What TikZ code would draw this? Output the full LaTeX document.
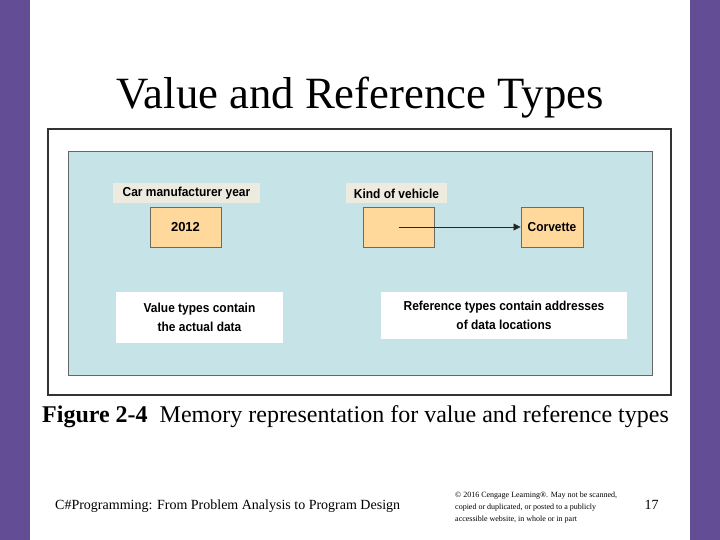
\documentclass[tikz,border=0pt]{standalone}
\usepackage{fontspec}
\setmainfont{Liberation Serif}
\newfontfamily\arialf{Liberation Sans}
\usetikzlibrary{arrows.meta}
\definecolor{slidepurple}{HTML}{634E96}
\definecolor{panelblue}{HTML}{C6E4E8}
\definecolor{labelbeige}{HTML}{EDEADF}
\definecolor{cellorange}{HTML}{FFD89C}
\definecolor{cellborder}{HTML}{6E6A62}
\tikzset{
  cell/.style={draw=cellborder, line width=0.9pt, fill=cellorange, minimum width=71pt, minimum height=40pt, inner sep=0pt, font=\arialf\bfseries\fontsize{13}{15}\selectfont},
  varlabel/.style={fill=labelbeige, inner sep=0pt, minimum height=20pt, font=\arialf\bfseries\fontsize{13}{15}\selectfont},
  notebox/.style={fill=white, inner sep=0pt, align=center, font=\arialf\bfseries\fontsize{13}{19}\selectfont},
}
\begin{document}
\begin{tikzpicture}[x=1pt,y=-1pt]
\useasboundingbox (0,0) rectangle (720,540);
\fill[white] (0,0) rectangle (720,540);
\fill[slidepurple] (0,0) rectangle (30,540);
\fill[slidepurple] (690,0) rectangle (720,540);
\node[font=\fontsize{44.7}{48}\selectfont, anchor=base] (title) at (360,109) {Value and Reference Types};
\draw[draw=black!80, line width=1.4pt, fill=white] (48,129) rectangle (671,395);
\draw[draw=black!60, line width=0.6pt, fill=panelblue] (68,151) rectangle (652,375);
\node[varlabel, minimum width=147pt] (yearlabel) at (186.5,193) {\scalebox{0.92}[1]{Car manufacturer year}};
\node[cell] (year) at (185.5,227) {2012};
\node[varlabel, minimum width=101pt] (kindlabel) at (396.5,193.5) {\scalebox{0.92}[1]{Kind of vehicle}};
\node[cell] (kind) at (398.5,227) {};
\node[cell, minimum width=62pt] (corvette) at (552,227) {\scalebox{0.92}[1]{Corvette}};
\coordinate (kindptr) at (398.5,227);
\draw[-{Triangle[length=7pt,width=7pt]}, line width=0.8pt, draw=black!85] (kindptr) -- (corvette.west);
\node[notebox, minimum width=167pt, minimum height=51pt] (valnote) at (199.5,317.5) {\scalebox{0.92}[1]{Value types contain}\\\scalebox{0.92}[1]{the actual data}};
\node[notebox, minimum width=246pt, minimum height=47pt] (refnote) at (504,315.5) {\scalebox{0.92}[1]{Reference types contain addresses}\\\scalebox{0.92}[1]{of data locations}};
\node[font=\fontsize{24}{28}\selectfont, anchor=base] (caption) at (355.5,422) {\textbf{Figure 2-4}\ \ Memory representation for value and reference types};
\node[font=\fontsize{14}{16}\selectfont, anchor=base west, inner sep=0pt] (course) at (55,509) {C\#Programming: From Problem Analysis to Program Design};
\node[font=\fontsize{8}{12}\selectfont, anchor=north west, align=left, inner sep=0pt] (copy) at (455,492) {© 2016 Cengage Learning®. May not be scanned,\\copied or duplicated, or posted to a publicly\\accessible website, in whole or in part};
\node[font=\fontsize{14}{16}\selectfont, anchor=base] (page) at (651.5,509) {17};
\end{tikzpicture}
\end{document}
